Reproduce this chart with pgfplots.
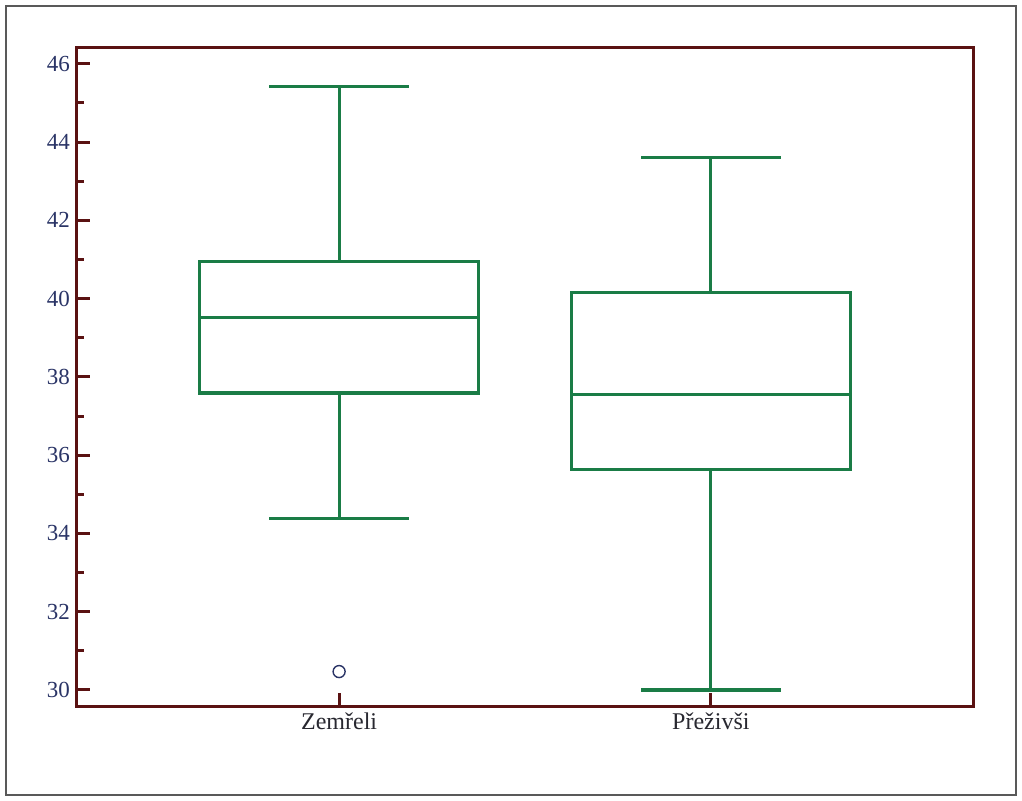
\documentclass[border=0pt]{standalone}
\usepackage{fontspec}
\setmainfont{Liberation Serif}
\usepackage{pgfplots}
\pgfplotsset{compat=1.18}
\usepgfplotslibrary{statistics}

\definecolor{boxgreen}{RGB}{26,124,70}
\definecolor{framered}{RGB}{90,18,18}
\definecolor{labelblue}{RGB}{42,52,102}
\definecolor{labeldark}{RGB}{40,40,48}

\begin{document}
\begin{tikzpicture}
% picture area and outer frame (1px = 0.5pt)
\useasboundingbox (0,0) rectangle (511pt,400pt);
\draw[draw=gray!70!black, line width=0.9pt] (3pt,2.5pt) rectangle (508pt,397pt);

\begin{axis}[
	at={(38.5pt,47pt)}, anchor=south west,
	scale only axis,
	width=448pt, height=329.5pt,
	xmin=0.295, xmax=2.705,
	ymin=29.59, ymax=46.43,
	xtick={1,2},
	xticklabels={Zemřeli,Přeživši},
	ytick={30,32,...,46},
	minor y tick num=1,
	xtick pos=bottom, ytick pos=left,
	tick align=inside,
	major tick length=6.5pt,
	minor tick length=3.5pt,
	axis line style={draw=framered, line width=1.5pt},
	every tick/.style={draw=framered, line width=1.5pt},
	x tick label style={font=\fontsize{12}{14}\selectfont, text=labeldark},
	y tick label style={font=\fontsize{11.5}{13}\selectfont, text=labelblue},
	/pgf/number format/assume math mode=true,
	boxplot/draw direction=y,
	boxplot/box extend=0.75,
	boxplot/whisker extend=0.375,
	]

	% Zemreli
	\addplot+[
		boxplot prepared={
			draw position=1,
			lower whisker=34.39,
			lower quartile=37.59,
			median=39.52,
			upper quartile=40.94,
			upper whisker=45.43,
		},
		draw=boxgreen, line width=1.6pt, solid,
		mark=o,
		mark size=3pt,
		mark options={draw=labelblue, line width=0.7pt, solid, fill=white},
	] coordinates {(1,30.47)};

	% Prezivsi
	\addplot+[
		boxplot prepared={
			draw position=2,
			lower whisker=30.0,
			lower quartile=35.63,
			median=37.54,
			upper quartile=40.16,
			upper whisker=43.61,
		},
		draw=boxgreen, line width=1.6pt, solid, mark=none,
	] coordinates {};

\end{axis}
\end{tikzpicture}
\end{document}
